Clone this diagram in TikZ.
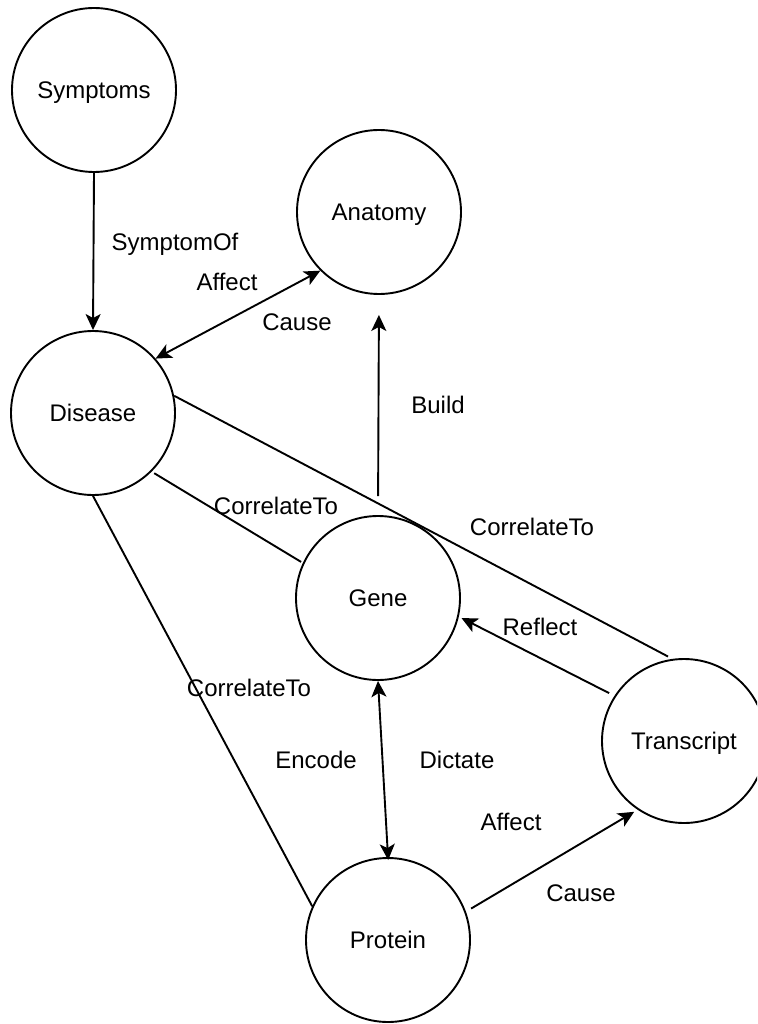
\documentclass[tikz,border=0pt]{standalone}
\usepackage{fontspec}
\setmainfont{Liberation Sans}
\usetikzlibrary{arrows.meta}
\begin{document}
\begin{tikzpicture}[x=1pt,y=-1pt,
  txt/.style={font=\fontsize{24}{28}\selectfont, text height=17pt, text depth=0pt},
  entity/.style={circle, draw, line width=1.9pt, minimum size=164pt, inner sep=0pt, txt},
  rel/.style={line width=1.9pt},
  head/.style={-{Stealth[length=16pt,width=15pt,inset=4pt]}},
  twoheads/.style={{Stealth[length=16pt,width=15pt,inset=4pt]}-{Stealth[length=16pt,width=15pt,inset=4pt]}},
  lbl/.style={inner sep=0pt, txt}
]
\useasboundingbox (0,0) rectangle (757,1024);
\clip (0,0) rectangle (757,1024);

% entities
\node[entity] (symptoms)   at (94,90)   {Symptoms};
\node[entity] (anatomy)    at (379,212) {Anatomy};
\node[entity] (disease)    at (93,413)  {Disease};
\node[entity] (gene)       at (378,598) {Gene};
\node[entity] (transcript) at (684,741) {Transcript};
\node[entity] (protein)    at (388,940) {Protein};

% relations
\draw[rel,head] (symptoms.south) -- (disease.north);
\draw[rel,twoheads] (disease.41) -- (anatomy.225);
\draw[rel,head,shorten <=19pt,shorten >=20pt] (gene.north) -- (anatomy.south);
\draw[rel,shorten >=5pt] (disease.12) -- (transcript.98.6);
\draw[rel,shorten <=3pt,shorten >=2pt] (disease.-45) -- (gene.155);
\draw[rel] (disease.south) -- (protein.156);
\draw[rel,head,shorten <=6pt,shorten >=3pt] (transcript.147) -- (gene.-13.5);
\draw[rel,twoheads,shorten >=-3pt] (gene.south) -- (protein.north);
\draw[rel,head,shorten <=6pt,shorten >=4pt] (protein.20.5) -- (transcript.236.9);

% relation labels
\node[lbl] (lsymptomof) at (175,242) {SymptomOf};
\node[lbl] (laffect1)   at (227,282) {Affect};
\node[lbl] (lcause1)    at (297,322) {Cause};
\node[lbl] (lbuild)     at (438,405) {Build};
\node[lbl] (lcorr1)     at (276,506) {CorrelateTo};
\node[lbl] (lcorr2)     at (532,527) {CorrelateTo};
\node[lbl] (lcorr3)     at (249,688) {CorrelateTo};
\node[lbl] (lreflect)   at (540,627) {Reflect};
\node[lbl] (lencode)    at (316,760) {Encode};
\node[lbl] (ldictate)   at (457,760) {Dictate};
\node[lbl] (laffect2)   at (511,822) {Affect};
\node[lbl] (lcause2)    at (581,893) {Cause};
\end{tikzpicture}
\end{document}
